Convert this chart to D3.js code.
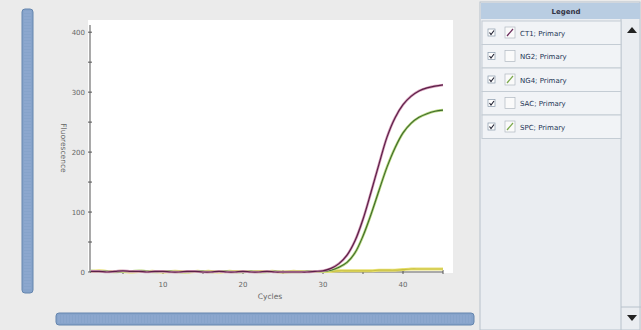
<!DOCTYPE html>
<meta charset="utf-8">
<html>
<head>
<script src="https://d3js.org/d3.v7.min.js"></script>
<style>
  body { margin: 0; background: #ebebeb; }
  text { font-family: "DejaVu Sans", sans-serif; }
</style>
</head>
<body>
<script>
// data
var cycles = [1,2,3,4,5,6,7,8,9,10,11,12,13,14,15,16,17,18,19,20,21,22,23,24,25,26,27,28,29,30,31,32,33,34,35,36,37,38,39,40,41,42,43,44,45];
var ct1 = [1,1,0,1,2,1,1,0,1,1, 0,0,1,1,0,0,1,0,0,1, 0,0,1,0,0,0,0,0,1,2, 6,14,28,52,88,133,180,225,257,279, 293,302,307,310,312];
var spc = [2,1,1,0,1,1,2,1,0,1, 1,0,0,1,1,0,1,1,0,0, 1,0,0,1,0,0,0,1,1,1, 3,8,16,32,60,96,136,175,207,232, 248,258,264,268,270];
var ng4 = [1,2,1,1,1,0,1,1,1,0, 1,1,0,1,1,1,0,1,1,1, 1,1,1,1,0,1,1,1,1,1, 1,2,2,2,2,2,3,3,3,4, 5,5,5,5,5];
var xMajor = [10,20,30,40], xMinor = [5,15,25,35,45];
var yMajor = [0,100,200,300,400], yMinor = [50,150,250,350];
var legendNames = ["CT1; Primary","NG2; Primary","NG4; Primary","SAC; Primary","SPC; Primary"];
var legendIcon = ["#6a2a5a", null, "#7aa84a", null, "#7aa84a"];

var W = 641, H = 330;
var svg = d3.select("body").append("svg").attr("width", W).attr("height", H);

svg.append("rect").attr("width", W).attr("height", H).attr("fill", "#ebebeb");

// plot background
svg.append("rect").attr("x", 88).attr("y", 20).attr("width", 365).attr("height", 253).attr("fill", "#fff");

var x = d3.scaleLinear().domain([0.875, 45]).range([90, 443]);
var y = d3.scaleLinear().domain([0, 412]).range([272, 25]);

var axisCol = "#555";
// axes lines
svg.append("line").attr("x1", x(0.875)).attr("x2", x(45)).attr("y1", y(0)).attr("y2", y(0)).attr("stroke", axisCol);
svg.append("line").attr("x1", x(0.875)).attr("x2", x(0.875)).attr("y1", y(0)).attr("y2", y(412)).attr("stroke", axisCol);

var xt = xMajor.concat(xMinor);
svg.selectAll(".xt").data(xt).enter().append("line")
  .attr("x1", d => x(d)).attr("x2", d => x(d)).attr("y1", y(0) - 2).attr("y2", y(0) + 2).attr("stroke", axisCol);
svg.selectAll(".xl").data(xMajor).enter().append("text")
  .attr("x", d => x(d)).attr("y", 287).attr("text-anchor", "middle")
  .attr("font-size", 7).attr("fill", "#666").text(d => d);

var yt = yMajor.concat(yMinor);
svg.selectAll(".yt").data(yt).enter().append("line")
  .attr("x1", x(0.875) - 2).attr("x2", x(0.875) + 2).attr("y1", d => y(d)).attr("y2", d => y(d)).attr("stroke", axisCol);
svg.selectAll(".yl").data(yMajor).enter().append("text")
  .attr("x", 85).attr("y", d => y(d) + 2.5).attr("text-anchor", "end")
  .attr("font-size", 7).attr("fill", "#666").text(d => d);

svg.append("text").attr("x", 270).attr("y", 299).attr("text-anchor", "middle")
  .attr("font-size", 7.5).attr("fill", "#666").text("Cycles");
svg.append("text").attr("transform", "translate(61,148) rotate(90)").attr("text-anchor", "middle")
  .attr("font-size", 7.5).attr("fill", "#666").text("Fluorescence");

// curves
var line = d3.line().x((d, i) => x(cycles[i])).y(d => y(d)).curve(d3.curveCatmullRom);
function curve(vals, halo, core, hw, cw) {
  svg.append("path").attr("d", line(vals)).attr("fill", "none").attr("stroke", halo).attr("stroke-width", hw);
  svg.append("path").attr("d", line(vals)).attr("fill", "none").attr("stroke", core).attr("stroke-width", cw);
}
curve(ng4, "#e8e070", "#c8c040", 3, 1.2);
curve(spc, "#b8d880", "#3f6b2a", 2.6, 1.1);
curve(ct1, "#d49ab8", "#5b2047", 2.6, 1.2);

// scrollbars
function scrollbar(xx, yy, w, h, vertical) {
  svg.append("rect").attr("x", xx).attr("y", yy).attr("width", w).attr("height", h).attr("rx", 3)
    .attr("fill", "#86a3ca").attr("stroke", "#6485ae");
  var g = svg.append("g");
  var n = vertical ? Math.floor(h / 3) : Math.floor(w / 3);
  for (var i = 1; i < n; i++) {
    if (vertical) g.append("line").attr("x1", xx + 2).attr("x2", xx + w - 2).attr("y1", yy + i * 3).attr("y2", yy + i * 3);
    else g.append("line").attr("y1", yy + 2).attr("y2", yy + h - 2).attr("x1", xx + i * 3).attr("x2", xx + i * 3);
  }
  g.attr("stroke", "#9ab4d6").attr("stroke-width", 0.6);
}
scrollbar(22, 9, 11, 284, true);
scrollbar(56, 313, 418, 12, false);

// legend panel
var lg = svg.append("g");
lg.append("rect").attr("x", 480).attr("y", 2).attr("width", 160).attr("height", 328).attr("fill", "#eaedf1").attr("stroke", "#b8c2cc");
lg.append("rect").attr("x", 481).attr("y", 3).attr("width", 159).attr("height", 16).attr("fill", "#b9cde2");
lg.append("text").attr("x", 566).attr("y", 14).attr("text-anchor", "middle").attr("font-size", 7)
  .attr("font-weight", "bold").attr("fill", "#334").text("Legend");
lg.append("line").attr("x1", 621).attr("x2", 621).attr("y1", 19).attr("y2", 330).attr("stroke", "#b8c2cc");
lg.append("line").attr("x1", 621).attr("x2", 641).attr("y1", 307).attr("y2", 307).attr("stroke", "#b8c2cc");
lg.append("path").attr("d", "M627,33 L637,33 L632,27 Z").attr("fill", "#222");
lg.append("path").attr("d", "M627,315 L637,315 L632,321 Z").attr("fill", "#222");

var rowH = 23.5, row0 = 21;
var rows = lg.selectAll(".row").data(legendNames).enter().append("g")
  .attr("transform", (d, i) => "translate(0," + (row0 + i * rowH) + ")");
rows.append("rect").attr("x", 482).attr("y", 0).attr("width", 139).attr("height", rowH)
  .attr("fill", "#f1f3f6").attr("stroke", "#c4ccd4");
rows.append("rect").attr("x", 488).attr("y", 8).attr("width", 7).attr("height", 7)
  .attr("fill", "#fff").attr("stroke", "#8899aa").attr("stroke-width", 0.7);
rows.append("path").attr("d", "M489.5,11.5 L491,13.5 L494,9.5").attr("fill", "none").attr("stroke", "#223").attr("stroke-width", 1.1);
rows.append("rect").attr("x", 505).attr("y", 6).attr("width", 10).attr("height", 11)
  .attr("fill", "#fafafa").attr("stroke", "#b0b8c0").attr("stroke-width", 0.7);
rows.filter((d, i) => legendIcon[i]).append("line")
  .attr("x1", 507).attr("y1", 15).attr("x2", 513).attr("y2", 8)
  .attr("stroke", d => legendIcon[legendNames.indexOf(d)]).attr("stroke-width", 1.2);
rows.append("text").attr("x", 520).attr("y", 14.5).attr("font-size", 7).attr("fill", "#223355").text(d => d);
</script>
</body>
</html>
